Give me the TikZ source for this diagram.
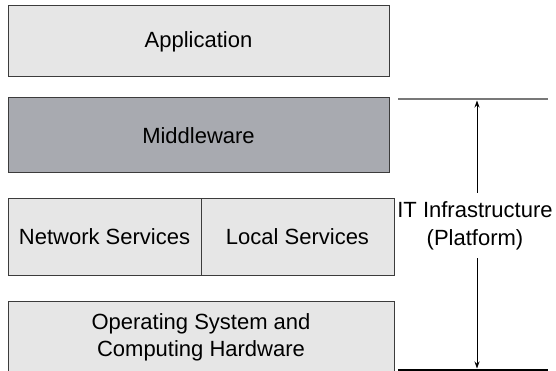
\documentclass[tikz,border=0pt]{standalone}
\usepackage{fontspec}
\setmainfont{Liberation Sans}
\usetikzlibrary{arrows.meta}
\definecolor{boxfill}{RGB}{230,230,230}
\definecolor{midfill}{RGB}{168,170,176}
\definecolor{boxline}{RGB}{60,60,60}
\definecolor{rule}{RGB}{120,120,120}
\begin{document}
\begin{tikzpicture}[x=1pt,y=-1pt,
  layer/.style={draw=boxline,line width=1pt,fill=boxfill,inner sep=0pt,outer sep=0pt,
    font=\fontsize{22}{27}\selectfont,align=center},
  rulestyle/.style={draw=rule,line width=1.3pt},
  dim/.style={draw=black,line width=0.9pt,-{Stealth[length=7pt,width=5pt]}}]
\useasboundingbox (0,0) rectangle (556,371);
\clip (0,0) rectangle (556,371);
\node[layer,minimum width=381pt,minimum height=71pt] (app) at (198.5,41.5) {Application};
\node[layer,fill=midfill,minimum width=381pt,minimum height=75.5pt] (mid) at (198.5,135.25) {Middleware};
\node[layer,minimum width=193pt,minimum height=76pt] (net) at (104.5,237) {Network Services};
\node[layer,minimum width=193pt,minimum height=76pt] (loc) at (297.5,237) {Local Services};
\node[layer,minimum width=386pt,minimum height=72pt] (os) at (201,337) {Operating System and\\Computing Hardware};
\coordinate (topL) at (398,99);
\coordinate (topR) at (548,99);
\coordinate (botL) at (398,370);
\coordinate (botR) at (548,370);
\coordinate (atop) at (477,100.5);
\coordinate (abot) at (477,368.5);
\coordinate (a1) at (477,193);
\coordinate (a2) at (477,258);
\node[font=\fontsize{22}{28}\selectfont,align=center,inner sep=0pt] (lbl) at (475,226) {IT Infrastructure\\(Platform)};
\draw[rulestyle] (topL) -- (topR);
\draw[rulestyle,draw=black] (botL) -- (botR);
\draw[dim] (a1) -- (atop);
\draw[dim] (a2) -- (abot);
\end{tikzpicture}
\end{document}
